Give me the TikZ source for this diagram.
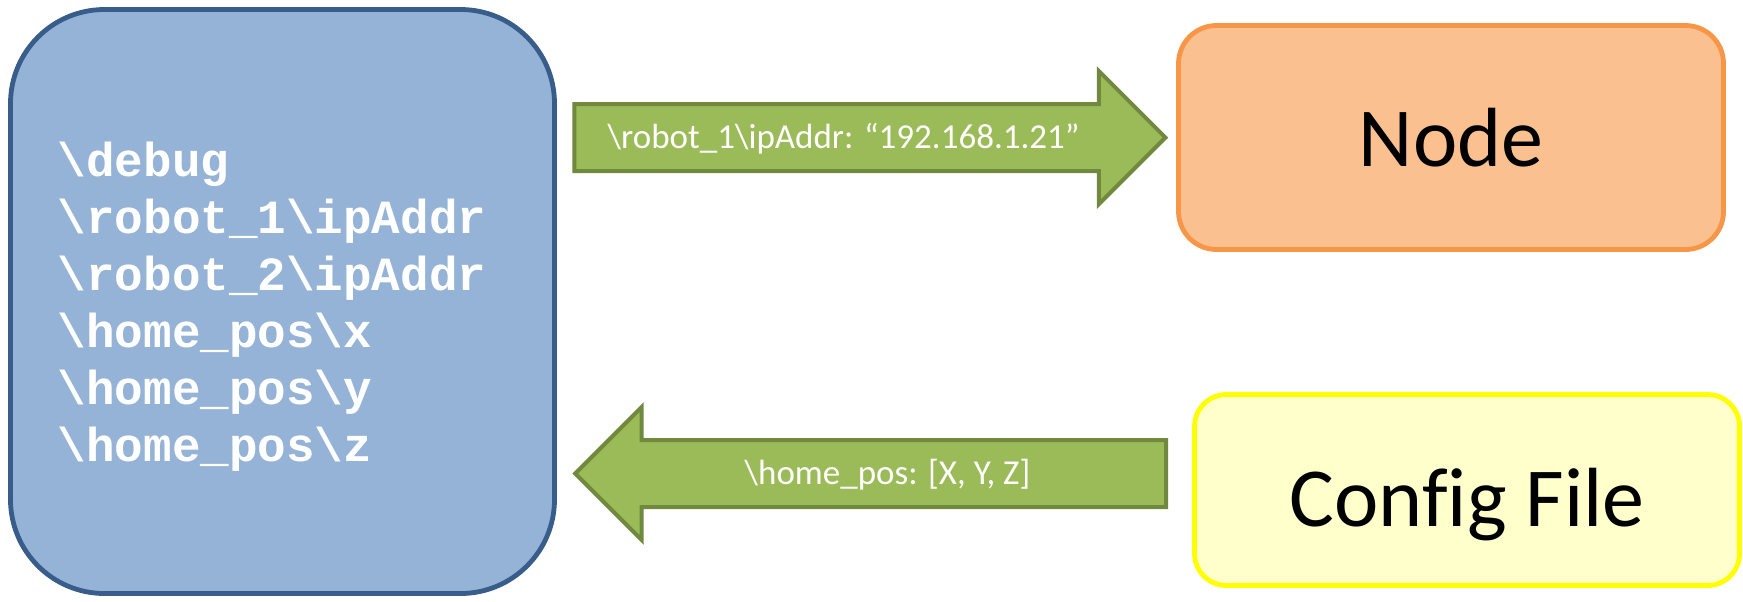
\documentclass[tikz,border=0pt]{standalone}
\usepackage{fontspec}
\setmainfont{Carlito}[Ligatures=CommonOff]
\setmonofont{Liberation Mono}
\usetikzlibrary{shapes.arrows,calc}
\definecolor{memfill}{HTML}{95B3D7}
\definecolor{memline}{HTML}{385D8A}
\definecolor{nodefill}{HTML}{FAC090}
\definecolor{nodeline}{HTML}{F79646}
\definecolor{cfgfill}{HTML}{FFFFCC}
\definecolor{cfgline}{HTML}{FFFF00}
\definecolor{flowfill}{HTML}{9BBB59}
\definecolor{flowline}{HTML}{71893F}
\newcommand{\bsl}{\textbackslash}
\tikzset{
  box/.style={draw,line width=2.4pt,minimum width=272.5pt,inner sep=0pt},
  bigtext/.style={font=\fontsize{42}{50}\selectfont,text depth=0pt},
  flow/.style={single arrow,draw=flowline,fill=flowfill,line width=2pt,
    single arrow head extend=16.5pt,minimum height=295.5pt,
    inner ysep=7.75pt,text height=13.6pt,text depth=2.4pt,
    text=white,font=\fontsize{17.5}{21}\selectfont},
}
\begin{document}
\begin{tikzpicture}[x=0.5pt,y=-0.5pt]
  \useasboundingbox (0,0) rectangle (1743,601);
  % parameter store
  \node[box,draw=memline,fill=memfill,minimum width=272pt,minimum height=292pt,
        rounded corners=47pt] (mem) at (282.5,301.5) {};
  \node[text=white,align=left,font=\ttfamily\bfseries\fontsize{23.8}{28.5}\selectfont]
       (keys) at ([shift={(-10.5,5.5)}]mem.center)
       {\bsl debug\\\bsl robot\_1\bsl ipAddr\\\bsl robot\_2\bsl ipAddr\\
        \bsl home\_pos\bsl x\\\bsl home\_pos\bsl y\\\bsl home\_pos\bsl z};
  \node[box,bigtext,draw=nodeline,fill=nodefill,minimum height=112pt,
        rounded corners=19pt] (nd) at (1451,137.5) {Node};
  \node[box,bigtext,draw=cfgline,fill=cfgfill,minimum height=95.5pt,
        rounded corners=16pt,text height=36pt] (cfg) at (1467,490) {Config File};
  % transfers
  \node[flow,anchor=tail] (put) at ([shift={(15.5,-164)}]mem.east)
       {\bsl robot\_1\bsl ipAddr: “192.168.1.21”\hspace*{9.5pt}};
  \node[flow,anchor=tip,shape border rotate=180] (get) at ([shift={(15.5,172)}]mem.east)
       {\bsl home\_pos: [X, Y, Z]};
\end{tikzpicture}
\end{document}
